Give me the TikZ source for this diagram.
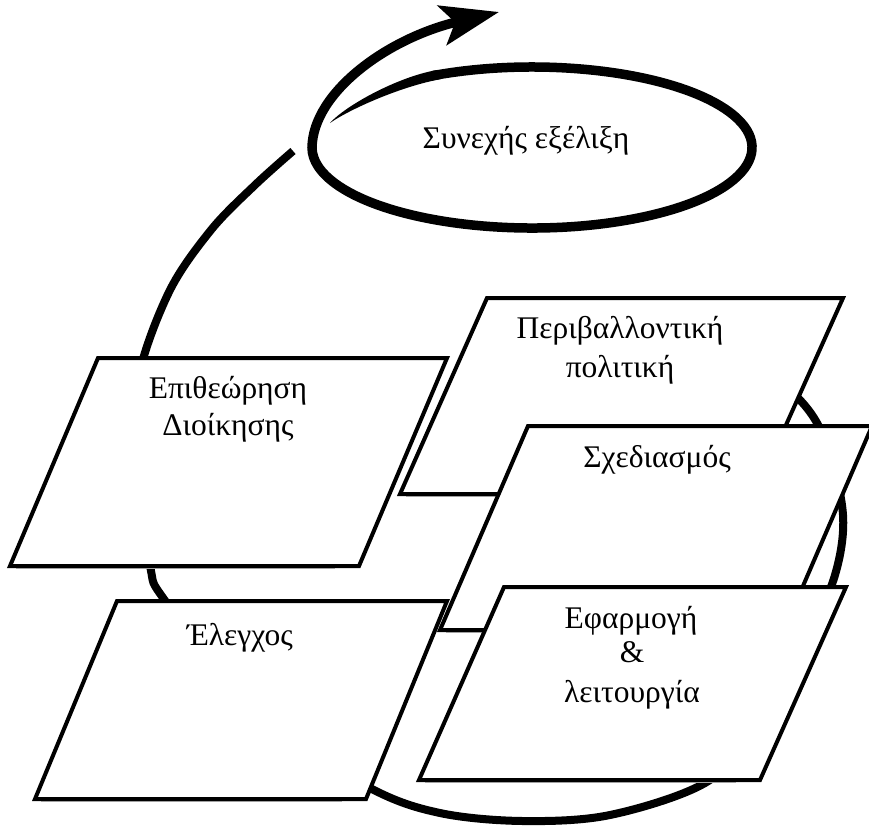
\documentclass[tikz,border=0pt]{standalone}
\usepackage{fontspec}
\setmainfont{Liberation Serif}
\usetikzlibrary{arrows.meta,calc}

% one slanted panel: soft line under the bottom edge, then the white box
\newcommand\slantpanel[4]{%
  \draw[panelshadow] ($#4+(6,2.6)$) -- ($#3+(-24,2.6)$);
  \draw[panel] #1 -- #2 -- #3 -- #4 -- cycle;
}

\begin{document}
\begin{tikzpicture}[x=1pt,y=-1pt,
  panel/.style={draw=black, fill=white, line width=4pt, line join=miter},
  panelshadow/.style={draw=black!28, line width=1.6pt},
  swirl/.style={draw=black, line width=8pt},
  spiral/.style={draw=black, line width=9.5pt},
  lbl/.style={font=\fontsize{31.5}{37}\selectfont, inner sep=0pt, anchor=base},
]
\useasboundingbox (0,0) rectangle (869,828);
\fill[white] (0,0) rectangle (869,828);

% large outer loop, passing behind the panels
\draw[swirl] plot[smooth, tension=0.55] coordinates {
  (740,352) (800,400) (827,445) (843,515) (835,575) (805,645) (760,728)
  (705,783) (610,815) (523,821) (440,813) (370,788) (258,718) (166,602)
  (150,566) (137,470) (138,380) (169,292) (211,230) (255,185) (293,151)};

% inner ellipse that opens into the rising arrow
\coordinate (ec) at (532,147.5);
\fill[black] (330,123) .. controls (345,106) and (397,77) .. ($(ec)+(245:225 and 85.5)$)
  -- ($(ec)+(245:215 and 75.5)$) .. controls (402,86) and (350,109) .. cycle;
\draw[spiral, -{Stealth[length=58pt,width=40pt,inset=13pt]}]
  ($(ec)+(243:220 and 80.5)$)
  arc[start angle=243, end angle=540, x radius=220, y radius=80.5]
  .. controls (313,92) and (388,38) .. (499,12);

% panels
\slantpanel{(98,358)}{(447,358)}{(359,566)}{(10,566)}
\slantpanel{(487,298)}{(843,298)}{(755,494)}{(400,494)}
\slantpanel{(528,426)}{(872,426)}{(784,630)}{(440,630)}
\slantpanel{(117,601)}{(447,601)}{(366,799)}{(35,799)}
\slantpanel{(504,587)}{(846,587)}{(760,780)}{(419,780)}

% labels
\node[lbl] (evo)   at (526,148) {Συνεχής εξέλιξη};
\node[lbl] (epi1)  at (228,398) {Επιθεώρηση};
\node[lbl] (epi2)  at (228,435) {Διοίκησης};
\node[lbl] (per1)  at (620,338) {Περιβαλλοντική};
\node[lbl] (per2)  at (620,377) {πολιτική};
\node[lbl] (sxe)   at (657,467) {Σχεδιασμός};
\node[lbl] (ele)   at (240,645) {Έλεγχος};
\node[lbl] (efa1)  at (631,628) {Εφαρμογή};
\node[lbl] (efa2)  at (632,662) {\&};
\node[lbl] (efa3)  at (632,702) {λειτουργία};
\end{tikzpicture}
\end{document}
